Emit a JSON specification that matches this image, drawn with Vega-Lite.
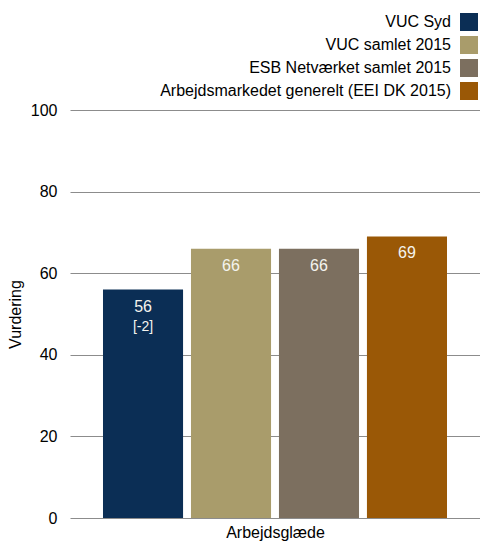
{
  "$schema": "https://vega.github.io/schema/vega-lite/v6.json",
  "autosize": {"type": "none"},
  "padding": {"left": 70, "top": 110, "right": 0, "bottom": 25},
  "width": 410,
  "height": 408,
  "background": "white",
  "config": {
    "view": {"stroke": null},
    "font": "Liberation Sans"
  },
  "data": {
    "values": [
      {"series": "VUC Syd", "value": 56, "note": "[-2]"},
      {"series": "VUC samlet 2015", "value": 66, "note": ""},
      {"series": "ESB Netværket samlet 2015", "value": 66, "note": ""},
      {"series": "Arbejdsmarkedet generelt (EEI DK 2015)", "value": 69, "note": ""}
    ]
  },
  "encoding": {
    "x": {
      "field": "series", "type": "nominal", "sort": null,
      "scale": {"paddingInner": 0.09, "paddingOuter": 0.375},
      "axis": {"labels": false, "ticks": false, "domain": false, "title": "Arbejdsglæde",
        "titleFontSize": 16, "titleFontWeight": "normal", "titleColor": "#000", "titlePadding": 6}
    },
    "y": {
      "field": "value", "type": "quantitative",
      "scale": {"domain": [0, 100]},
      "axis": {"values": [0, 20, 40, 60, 80, 100], "grid": true, "gridColor": "#8c8c8c", "domain": false, "ticks": false,
        "labelPadding": 13, "labelFontSize": 16, "labelColor": "#000",
        "title": "Vurdering", "titleFontSize": 16, "titleFontWeight": "normal", "titleColor": "#000", "titlePadding": 7}
    }
  },
  "layer": [
    {
      "mark": {"type": "bar"},
      "encoding": {
        "color": {
          "field": "series", "type": "nominal", "sort": null,
          "scale": {
            "domain": ["VUC Syd", "VUC samlet 2015", "ESB Netværket samlet 2015", "Arbejdsmarkedet generelt (EEI DK 2015)"],
            "range": ["#0b2e55", "#a99c6b", "#7c6f5f", "#9a5806"]
          },
          "legend": {
            "orient": "none", "legendX": 390, "legendY": -97, "title": null,
            "symbolType": "square", "symbolSize": 324, "symbolStrokeWidth": 0, "symbolOpacity": 1,
            "labelFontSize": 16, "labelColor": "#000", "labelAlign": "right", "labelOffset": -27,
            "labelLimit": 0, "rowPadding": 5
          }
        }
      }
    },
    {
      "mark": {"type": "text", "baseline": "top", "dy": 9, "fontSize": 16, "color": "#f4f4ee"},
      "encoding": {"text": {"field": "value", "type": "quantitative"}}
    },
    {
      "mark": {"type": "text", "baseline": "top", "dy": 30, "fontSize": 14, "color": "#f4f4ee"},
      "encoding": {"text": {"field": "note", "type": "nominal"}}
    }
  ]
}
